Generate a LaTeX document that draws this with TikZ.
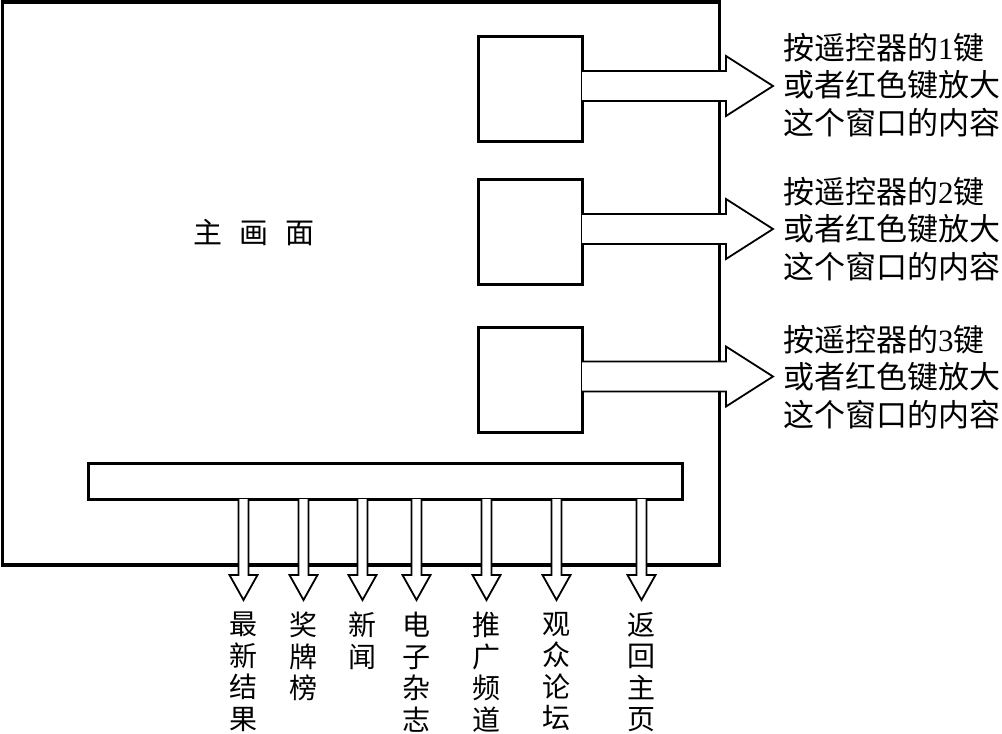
\documentclass[tikz,border=0pt]{standalone}
\usepackage{fontspec}
\setmainfont{Liberation Serif}
\newfontfamily\cjk{Noto Sans CJK SC}
\usetikzlibrary{calc}
\tikzset{
  frame/.style={draw, line width=3.5pt, fill=white, outer sep=0pt, inner sep=0pt},
  winbox/.style={draw, line width=3pt, fill=white, outer sep=0pt, inner sep=0pt, minimum width=104pt, minimum height=105pt},
  blk/.style={draw, line width=1.8pt, fill=white, line join=miter},
  sidetext/.style={anchor=west, align=left, inner sep=0pt, font=\cjk\fontsize{31}{37.5}\selectfont},
  vlabel/.style={anchor=north, align=center, inner sep=0pt, font=\cjk\fontsize{28}{31.5}\selectfont},
}
\begin{document}
\begin{tikzpicture}[x=1pt, y=-1pt]
\useasboundingbox (0,0) rectangle (1002,734);
% main frame
\node[frame, minimum width=717pt, minimum height=563pt] (main) at (361,283.5) {};
\node[anchor=west, inner sep=0pt, font=\cjk\fontsize{29}{30}\selectfont] (title) at (193,233) {主\hspace{17pt}画\hspace{17pt}面};
% windows
\node[winbox] (w1) at (530,89) {};
\node[winbox] (w2) at (530,232) {};
\node[winbox] (w3) at (530,379.5) {};
% bar
\node[frame, line width=3pt, minimum width=594pt, minimum height=36pt] (bar) at (385.5,481) {};
% right block arrows
\foreach \w in {w1,w2,w3}{
  \draw[blk] ($(\w.east)+(0,-18)$) -- ++(144,0) -- ++(0,-15) -- ++(47,30) -- ++(-47,30) -- ++(0,-15) -- ($(\w.east)+(0,12)$);
}
% side texts
\node[sidetext] (t1) at (783,85) {按遥控器的{\rmfamily 1}键\\或者红色键放大\\这个窗口的内容};
\node[sidetext] (t2) at (783,229) {按遥控器的{\rmfamily 2}键\\或者红色键放大\\这个窗口的内容};
\node[sidetext] (t3) at (783,377) {按遥控器的{\rmfamily 3}键\\或者红色键放大\\这个窗口的内容};
% bottom block arrows
\foreach \dx/\n in {155/1,215/2,274/3,328/4,398/5,468/6,553/7}{
  \coordinate (s\n) at ($(bar.south west)+(\dx,0)$);
  \draw[blk] ($(s\n)+(-5,0)$) -- ++(0,76) -- ++(-9,0) -- ++(14,25) -- ++(14,-25) -- ++(-9,0) -- ($(s\n)+(5,0)$);
}
% bottom labels
\node[vlabel] (l1) at ($(s1)+(0,113)$) {最\\新\\结\\果};
\node[vlabel] (l2) at ($(s2)+(0,113)$) {奖\\牌\\榜};
\node[vlabel] (l3) at ($(s3)+(0,113)$) {新\\闻};
\node[vlabel] (l4) at ($(s4)+(0,113)$) {电\\子\\杂\\志};
\node[vlabel] (l5) at ($(s5)+(0,113)$) {推\\广\\频\\道};
\node[vlabel] (l6) at ($(s6)+(0,113)$) {观\\众\\论\\坛};
\node[vlabel] (l7) at ($(s7)+(0,113)$) {返\\回\\主\\页};
\end{tikzpicture}
\end{document}
